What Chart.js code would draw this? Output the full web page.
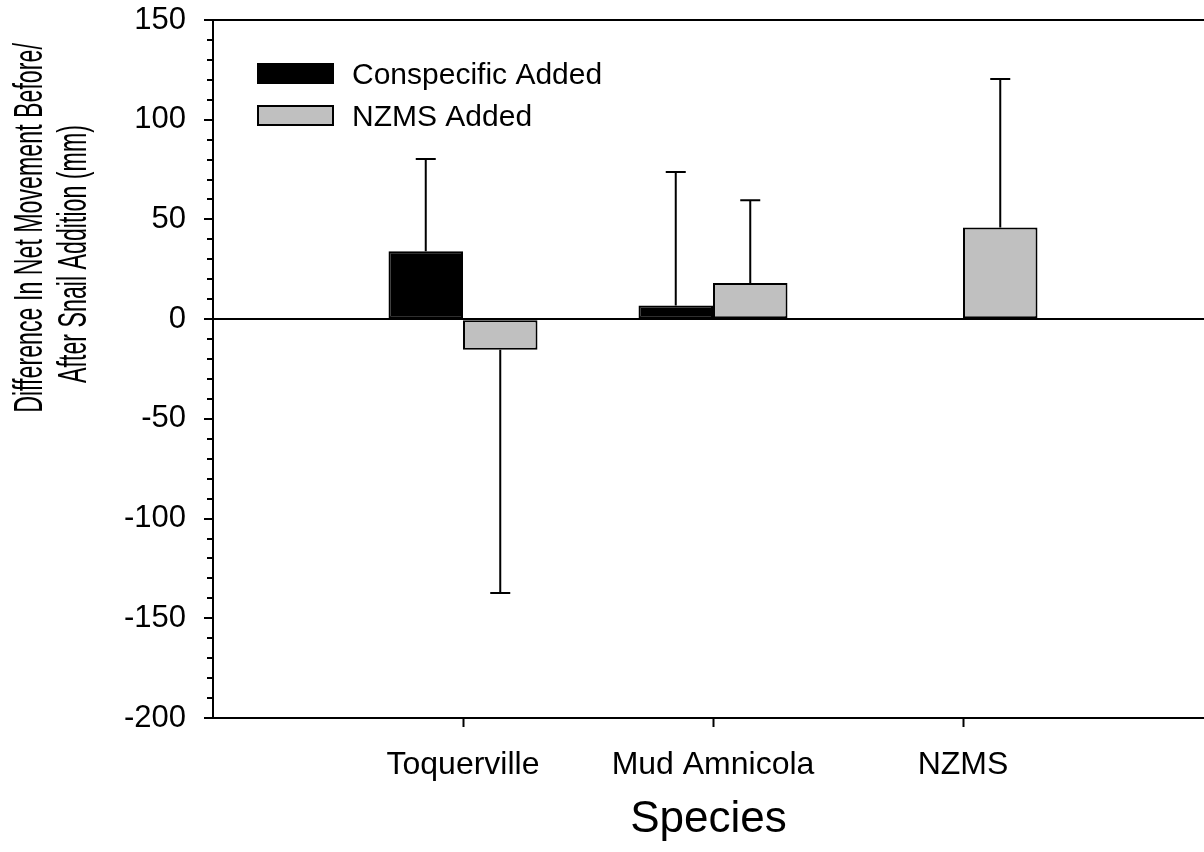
<!DOCTYPE html>
<html><head><meta charset="utf-8">
<script src="https://cdn.jsdelivr.net/npm/chart.js@4.4.1/dist/chart.umd.min.js"></script>
<style>html,body{margin:0;padding:0;background:#fff;overflow:hidden}#wrap{width:1204px;height:852px;position:relative}</style>
</head><body><div id="wrap"><canvas id="c" width="1204" height="852"></canvas></div>
<script>
const categories = ['Toquerville', 'Mud Amnicola', 'NZMS'];
const categoryPositions = [1, 2, 3];
const conspecificAdded = [34, 6.8, null];
const conspecificErr = [46.3, 67, null];
const nzmsAdded = [-15.3, 18.1, 45.9];
const nzmsErr = [122, 41.5, 74.5];
const seriesNames = ['Conspecific Added', 'NZMS Added'];
const seriesColors = ['#000000', '#c0c0c0'];
const yTitleLines = ['Difference In Net Movement Before/', 'After Snail Addition (mm)'];
const xTitle = 'Species';
const FONT = "'Liberation Sans', Arial, sans-serif";

function buildPoints(vals, errs) {
  const pts = [];
  categoryPositions.forEach((x, i) => {
    if (vals[i] !== null) pts.push({ x: x, y: vals[i], err: errs[i] });
  });
  return pts;
}

const errorBars = {
  id: 'errorBars',
  afterDatasetsDraw(chart) {
    const ctx = chart.ctx, y = chart.scales.y;
    ctx.save();
    ctx.strokeStyle = '#000';
    ctx.lineWidth = 2;
    chart.data.datasets.forEach((ds, di) => {
      const meta = chart.getDatasetMeta(di);
      meta.data.forEach((bar, i) => {
        const p = ds.data[i];
        const end = p.y >= 0 ? p.y + p.err : p.y - p.err;
        const y0 = y.getPixelForValue(p.y), y1 = y.getPixelForValue(end);
        ctx.beginPath();
        ctx.moveTo(bar.x, y0); ctx.lineTo(bar.x, y1);
        ctx.moveTo(bar.x - 10, y1); ctx.lineTo(bar.x + 10, y1);
        ctx.stroke();
      });
    });
    ctx.restore();
  }
};

const minorTicks = {
  id: 'minorTicks',
  afterDraw(chart) {
    const ctx = chart.ctx, y = chart.scales.y;
    ctx.save();
    ctx.strokeStyle = '#000';
    ctx.lineWidth = 2;
    for (let v = y.min; v <= y.max; v += 10) {
      if (v % 50 === 0) continue;
      const py = Math.round(y.getPixelForValue(v));
      ctx.beginPath();
      ctx.moveTo(y.right - 6, py); ctx.lineTo(y.right, py);
      ctx.stroke();
    }
    ctx.restore();
  }
};

const customLegend = {
  id: 'customLegend',
  afterDraw(chart) {
    const ctx = chart.ctx, a = chart.chartArea;
    ctx.save();
    chart.data.datasets.forEach((ds, i) => {
      const bx = a.left + 44, by = a.top + 43 + i * 42, bw = 77, bh = 21;
      ctx.fillStyle = '#000';
      ctx.fillRect(bx, by, bw, bh);
      ctx.fillStyle = ds.backgroundColor;
      ctx.fillRect(bx + 2, by + 2, bw - 4, bh - 4);
      ctx.fillStyle = '#000';
      ctx.font = '30px ' + FONT;
      ctx.textAlign = 'left';
      ctx.textBaseline = 'middle';
      ctx.fillText(ds.label, bx + 95, by + bh / 2 + 2);
    });
    ctx.restore();
  }
};

const yTitle = {
  id: 'yTitle',
  afterDraw(chart) {
    const ctx = chart.ctx;
    const pos = [[31, 228], [75, 254]];
    ctx.save();
    ctx.fillStyle = '#000';
    ctx.font = '40px ' + FONT;
    ctx.textAlign = 'center';
    ctx.textBaseline = 'middle';
    yTitleLines.forEach((t, i) => {
      ctx.save();
      ctx.translate(pos[i][0], pos[i][1]);
      ctx.rotate(-Math.PI / 2);
      ctx.scale(0.58, 1);
      ctx.fillText(t, 0, 0);
      ctx.restore();
    });
    ctx.restore();
  }
};

new Chart(document.getElementById('c'), {
  type: 'bar',
  data: {
    datasets: [
      { label: seriesNames[0], data: buildPoints(conspecificAdded, conspecificErr), backgroundColor: seriesColors[0], borderColor: '#000', borderWidth: 2, borderSkipped: false },
      { label: seriesNames[1], data: buildPoints(nzmsAdded, nzmsErr), backgroundColor: seriesColors[1], borderColor: '#000', borderWidth: 2, borderSkipped: false }
    ]
  },
  plugins: [errorBars, minorTicks, customLegend, yTitle],
  options: {
    responsive: false,
    animation: false,
    devicePixelRatio: 1,
    categoryPercentage: 0.596,
    barPercentage: 1,
    layout: { padding: { top: 20, right: 0, left: 0, bottom: 0 } },
    plugins: { legend: { display: false }, tooltip: { enabled: false } },
    scales: {
      x: {
        type: 'linear',
        offset: false,
        min: 0,
        max: 3.964,
        afterFit(s) { s.height = 134; s.paddingLeft = 0; s.paddingRight = 0; },
        afterBuildTicks(s) { s.ticks = categoryPositions.map(v => ({ value: v })); },
        ticks: {
          color: '#000',
          font: { family: FONT, size: 32 },
          padding: 19,
          maxRotation: 0,
          autoSkip: false,
          callback: (v) => categories[categoryPositions.indexOf(v)]
        },
        grid: { offset: false, drawOnChartArea: false, drawTicks: true, tickLength: 9, tickColor: '#000', tickWidth: 2 },
        border: { display: true, color: '#000', width: 2 },
        title: { display: true, text: xTitle, color: '#000', font: { family: FONT, size: 44 }, padding: { top: 0, bottom: 6 } }
      },
      y: {
        min: -200,
        max: 150,
        afterFit(s) { s.width = 213; s.paddingTop = 0; s.paddingBottom = 0; },
        ticks: { stepSize: 50, color: '#000', font: { family: FONT, size: 31 }, padding: 18 },
        grid: {
          color: (c) => (c.tick && (c.tick.value === 0 || c.tick.value === 150)) ? '#000' : 'rgba(0,0,0,0)',
          lineWidth: 2,
          drawTicks: true,
          tickLength: 9,
          tickColor: '#000',
          tickWidth: 2
        },
        border: { display: true, color: '#000', width: 2 }
      }
    }
  }
});
</script>
</body></html>
